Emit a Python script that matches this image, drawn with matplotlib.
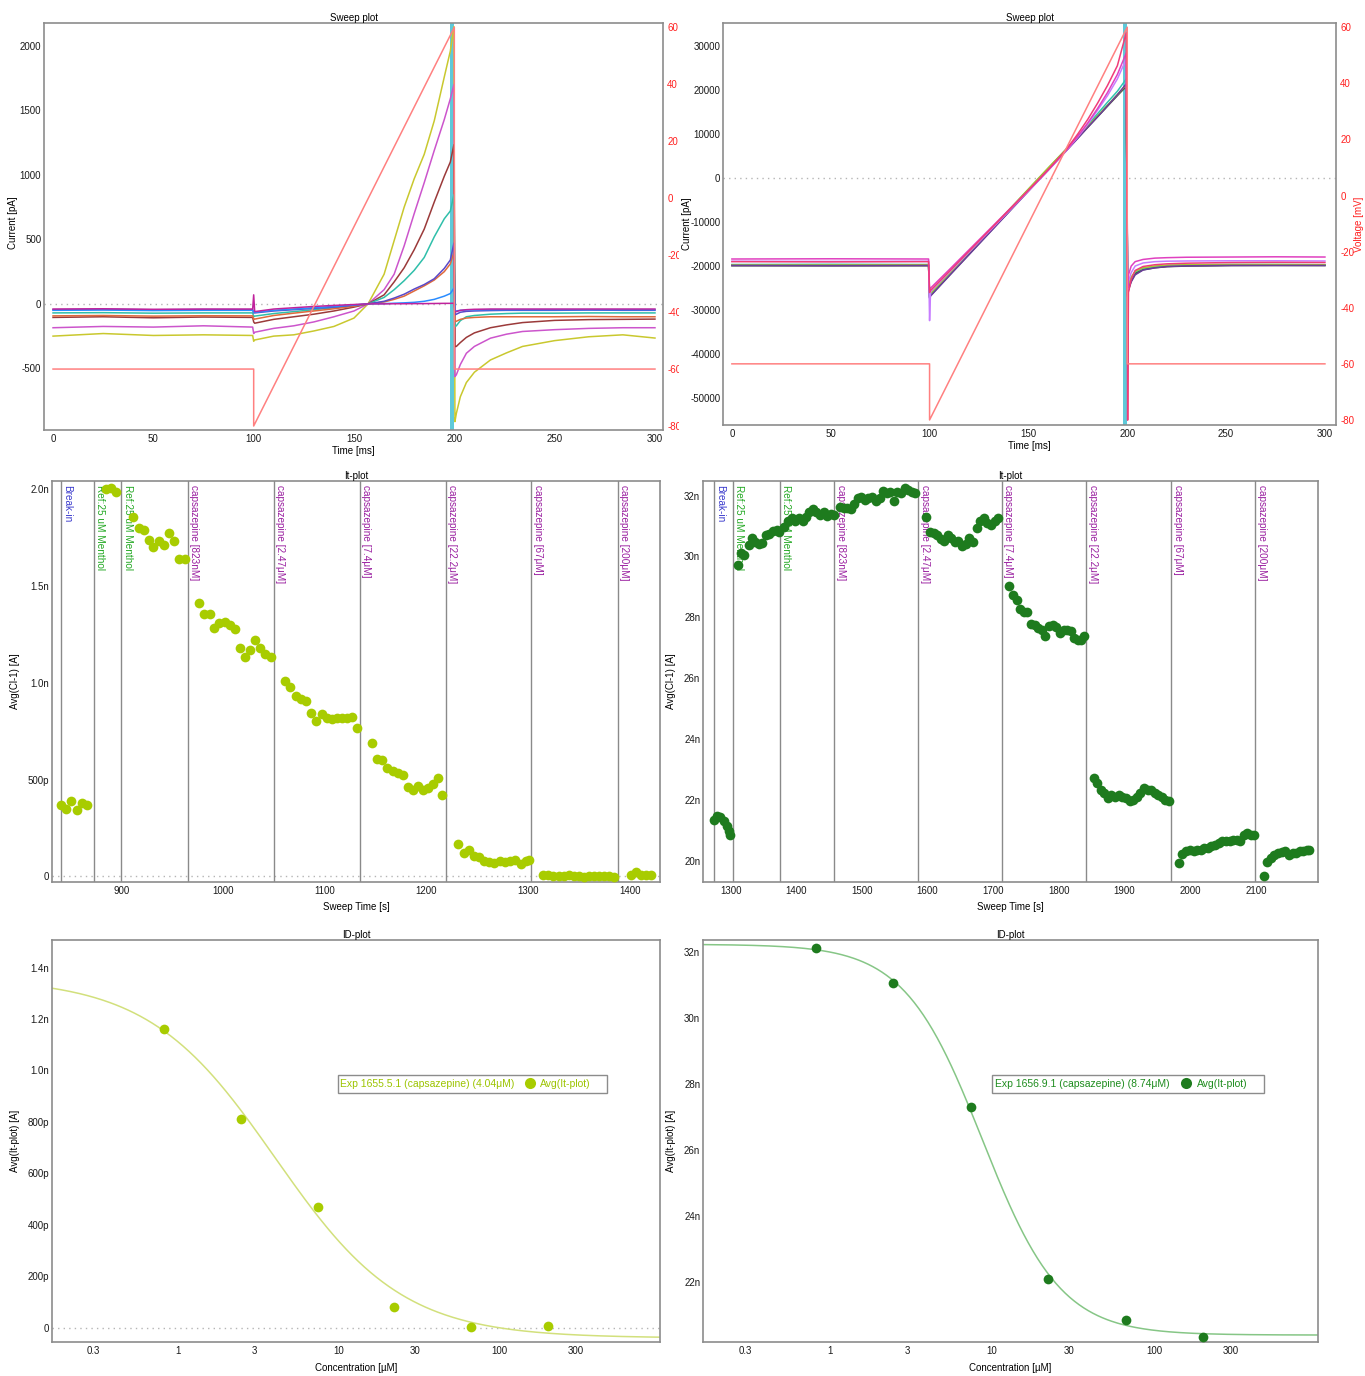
import numpy as np
import matplotlib.pyplot as plt
from matplotlib.ticker import FuncFormatter, NullLocator
from matplotlib.patches import Rectangle
from matplotlib.transforms import offset_copy

plt.rcParams['font.family'] = ['Liberation Sans', 'DejaVu Sans']
plt.rcParams['font.size'] = 7
plt.rcParams['axes.unicode_minus'] = False

# ---------------- sweep plot, experiment 1 (pA) ----------------
t_ms = [0, 25, 50, 75, 99.5, 100, 100.5, 110, 120, 130, 140, 150, 157, 165, 170, 175, 180, 185, 190,
        195, 198, 199.8, 200.3, 201, 203, 206, 210, 218, 226, 234, 250, 267, 284, 300]
sweeps_1 = {
    '#c9c82e': [-250, -230, -245, -240, -245, -290, -280, -250, -240, -210, -175, -110, 0, 230, 490, 750, 970, 1160,
                1420, 1760, 1960, 2150, -913, -850, -720, -610, -530, -435, -380, -330, -285, -255, -240, -265],
    '#cc55cc': [-185, -175, -180, -170, -180, -230, -220, -190, -170, -140, -100, -55, 0, 110, 230, 450, 700, 940,
                1190, 1430, 1590, 1700, -564, -550, -470, -383, -330, -266, -235, -214, -200, -190, -185, -185],
    '#9b3a3a': [-105, -100, -108, -102, -105, -140, -150, -120, -100, -80, -55, -25, 0, 70, 170, 280, 420, 580,
                790, 990, 1100, 1234, -331, -330, -300, -260, -225, -185, -163, -145, -128, -122, -120, -118],
    '#2fbfaa': [-70, -68, -72, -70, -70, -100, -95, -75, -60, -45, -30, -15, 0, 50, 110, 180, 260, 360,
                520, 660, 720, 846, -176, -170, -130, -100, -90, -80, -75, -72, -72, -70, -70, -70],
    '#e06a3c': [-93, -90, -95, -92, -93, -120, -118, -90, -72, -55, -38, -18, 0, 15, 35, 60, 100, 140,
                185, 250, 310, 400, -137, -135, -120, -110, -105, -100, -100, -100, -100, -98, -100, -100],
    '#5a48c8': [-45, -42, -46, -44, -45, -70, -70, -55, -45, -35, -25, -10, 0, 20, 45, 75, 115, 150,
                195, 275, 340, 471, -85, -80, -65, -58, -55, -52, -50, -50, -50, -48, -50, -50],
    '#2a8cff': [-50, -48, -52, -50, -50, -65, -65, -50, -40, -30, -20, -8, 0, 2, 5, 8, 12, 20,
                35, 60, 80, 122, -55, -55, -50, -48, -46, -45, -45, -45, -45, -45, -45, -45],
    '#c0229c': [-40, -38, -42, -40, -40, 70, -60, -40, -30, -20, -12, -5, 0, 0, 1, 1, 2, 2,
                3, 4, 4, 5, -62, -60, -50, -45, -42, -40, -40, -40, -40, -40, -40, -40],
}

# ---------------- sweep plot, experiment 2 (pA) ----------------
t_ms_2 = [0, 50, 99.5, 100, 100.5, 110, 120, 130, 140, 150, 160, 169, 175, 180, 185, 190, 195, 199.5,
          200.2, 200.6, 202, 204, 208, 214, 220, 230, 253, 275, 300]
sweeps_2 = {
    '#2f7d32': [-19800, -19850, -19800, -27000, -26500, -21950, -17150, -12350, -7550, -2750, 2050, 6370, 9250,
                11650, 14050, 16450, 18850, 21000, -26500, -25000, -23200, -21600, -20700, -20250, -20050,
                -19900, -19800, -19780, -19800],
    '#4d4d4d': [-19950, -19950, -19950, -27200, -26700, -22100, -17300, -12500, -7700, -2900, 1900, 6200, 9100,
                11500, 13900, 16300, 18700, 20800, -26800, -25300, -23400, -21800, -20850, -20400, -20150,
                -20000, -19900, -19880, -19900],
    '#30c4b0': [-19650, -19600, -19650, -26800, -26300, -21800, -17000, -12200, -7400, -2600, 2200, 6500, 9500,
                12000, 14600, 17200, 19700, 22500, -26000, -24600, -22800, -21300, -20500, -20100, -19900,
                -19750, -19650, -19650, -19700],
    '#a8c830': [-19750, -19750, -19700, -26600, -26200, -21700, -16900, -12100, -7300, -2500, 2300, 6500, 9300,
                11700, 14100, 16500, 18900, 21200, -25500, -24000, -22500, -21200, -20400, -20000, -19800,
                -19700, -19650, -19650, -19700],
    '#6a3d9a': [-19850, -19900, -19850, -27300, -26800, -22200, -17400, -12600, -7800, -3000, 1800, 6100, 9000,
                11500, 13900, 16400, 18900, 21400, -27000, -25500, -23600, -22000, -20900, -20400, -20100,
                -19950, -19850, -19850, -19850],
    '#c77dff': [-18900, -18950, -18900, -32400, -25800, -21400, -16800, -12200, -7600, -3000, 1700, 6100, 9300,
                12200, 15400, 18700, 22500, 27000, -26000, -23500, -21500, -20000, -19300, -19000, -18900,
                -18850, -18800, -18800, -18850],
    '#e040c0': [-18400, -18350, -18400, -25500, -25000, -20800, -16300, -11800, -7300, -2800, 1800, 6200, 9500,
                12500, 15800, 19400, 23500, 28400, -25000, -22000, -20000, -19000, -18500, -18200, -18100,
                -18000, -17950, -17900, -17950],
    '#f03c78': [-19000, -19050, -19000, -26000, -25500, -21200, -16600, -12000, -7400, -2800, 1900, 6400, 10000,
                13300, 17000, 21000, 25500, 33000, -55000, -26000, -23000, -21000, -20100, -19700, -19500,
                -19350, -19200, -19150, -19200],
}

# voltage protocol (mV)
v_t = [0, 100, 100, 200, 200, 300]
v_mv = [-60, -60, -80, 60, -60, -60]

# ---------------- It-plot, experiment 1 (nA) ----------------
it1_t = [841, 846, 851, 856, 861, 866,
         885, 890, 895,
         911.5, 917, 922, 927, 931.5, 937, 942, 947, 952, 956.6, 962.5,
         976.6, 981.7, 986.8, 991.5, 996.6, 1001.7, 1006.8, 1011.5, 1016.6, 1021.7, 1026.8, 1031.5, 1036.6,
         1041.7, 1046.8,
         1061.3, 1066.4, 1071.5, 1076.6, 1081.7, 1086.8, 1091.9, 1097, 1102, 1107, 1112, 1117.4, 1122, 1127,
         1131.5,
         1146.4, 1151.5, 1156.6, 1161.7, 1166.8, 1171.9, 1177, 1182, 1187, 1192, 1197, 1202, 1207, 1211.5,
         1215.7,
         1231.5, 1236.6, 1241.7, 1246.8, 1252, 1257, 1262, 1267, 1272, 1277, 1282, 1287, 1292.8, 1298, 1301,
         1315, 1320, 1325, 1330, 1335, 1340, 1345, 1350, 1355, 1360, 1365, 1370, 1375, 1380, 1385,
         1401, 1406, 1411, 1416, 1421]
it1_i = [0.37, 0.35, 0.39, 0.345, 0.38, 0.37,
         2.00, 2.005, 1.985,
         1.857, 1.80, 1.79, 1.737, 1.70, 1.73, 1.71, 1.775, 1.73, 1.64, 1.64,
         1.41, 1.355, 1.355, 1.28, 1.307, 1.312, 1.30, 1.278, 1.178, 1.13, 1.17, 1.218, 1.178, 1.147, 1.135,
         1.01, 0.98, 0.929, 0.917, 0.906, 0.843, 0.803, 0.837, 0.817, 0.813, 0.817, 0.82, 0.82, 0.825, 0.765,
         0.688, 0.607, 0.602, 0.559, 0.542, 0.533, 0.525, 0.459, 0.447, 0.464, 0.447, 0.456, 0.476, 0.507,
         0.418,
         0.167, 0.12, 0.138, 0.103, 0.098, 0.081, 0.074, 0.069, 0.077, 0.074, 0.077, 0.086, 0.064, 0.077, 0.086,
         0.008, 0.005, 0.004, 0.002, 0.003, 0.006, 0.002, 0.0, -0.002, 0.0, 0.001, 0.003, 0.0, 0.002, -0.002,
         0.005, 0.022, 0.009, 0.009, 0.009]
events1 = [840.4, 873, 900, 965.5, 1049.8, 1134.5, 1219.1, 1303.4, 1388.1]

# ---------------- It-plot, experiment 2 (nA) ----------------
it2_t = [1274, 1279.5, 1284, 1290, 1294, 1297, 1299,
         1311.6, 1315.8, 1321, 1327.4, 1333, 1337.7, 1343, 1348.6, 1353.4, 1359, 1364, 1370, 1374,
         1382, 1387.7, 1393, 1398.6, 1404, 1409.6, 1414.4, 1420, 1425, 1430.8, 1436, 1441.8, 1447, 1452.7,
         1456.8,
         1466, 1472, 1477.4, 1483, 1488, 1494, 1499, 1505, 1510, 1516, 1521, 1527, 1532, 1537.7, 1543, 1548.6,
         1554, 1559.6, 1565, 1570.5, 1576, 1581.5,
         1598, 1603.4, 1609, 1614, 1620, 1625, 1631, 1636, 1641.8, 1647, 1652.7, 1658, 1663.7, 1669, 1674.7,
         1680, 1685.6, 1691, 1696.6, 1702, 1707.5,
         1724.6, 1730, 1735.6, 1741, 1746.6, 1752, 1757.5, 1763, 1768.5, 1774, 1779.5, 1785, 1790.4, 1796,
         1801.4, 1807, 1812.3, 1818, 1823, 1828.8, 1834, 1838,
         1852.7, 1858, 1863.7, 1869, 1874.7, 1880, 1885.6, 1891, 1896.6, 1902, 1907.5, 1913, 1918.5, 1924,
         1929.5, 1935, 1940.4, 1946, 1951.4, 1957, 1962, 1968,
         1983, 1988, 1994, 1999, 2005, 2010, 2016, 2021, 2027, 2032, 2038, 2043, 2049, 2054, 2060, 2065, 2071,
         2076, 2082, 2087, 2093, 2097,
         2112, 2117, 2123, 2128, 2134, 2139, 2144.5, 2150, 2156, 2161, 2166.4, 2172, 2177, 2181.5]
it2_i = [21.35, 21.46, 21.42, 21.3, 21.13, 20.97, 20.86,
         29.72, 30.1, 30.05, 30.38, 30.62, 30.49, 30.4, 30.43, 30.7, 30.73, 30.84, 30.87, 30.82,
         30.98, 31.17, 31.28, 31.15, 31.26, 31.15, 31.31, 31.47, 31.56, 31.47, 31.37, 31.47, 31.34, 31.39,
         31.37,
         31.64, 31.6, 31.58, 31.55, 31.72, 31.91, 31.97, 31.86, 31.91, 31.97, 31.82, 31.93, 32.15, 32.08, 32.11,
         31.82, 32.13, 32.08, 32.24, 32.19, 32.11, 32.08,
         31.31, 30.82, 30.76, 30.69, 30.58, 30.51, 30.71, 30.6, 30.49, 30.51, 30.33, 30.4, 30.62, 30.49, 30.93,
         31.17, 31.26, 31.09, 31.04, 31.17, 31.26,
         29.04, 28.72, 28.57, 28.28, 28.17, 28.19, 27.77, 27.75, 27.64, 27.59, 27.4, 27.7, 27.75, 27.67, 27.48,
         27.59, 27.59, 27.56, 27.31, 27.26, 27.26, 27.37,
         22.72, 22.55, 22.33, 22.22, 22.06, 22.17, 22.11, 22.17, 22.08, 22.06, 21.97, 22.0, 22.11, 22.22, 22.39,
         22.33, 22.33, 22.22, 22.17, 22.08, 22.0, 21.97,
         19.93, 20.22, 20.31, 20.36, 20.31, 20.36, 20.36, 20.42, 20.42, 20.47, 20.53, 20.58, 20.64, 20.66, 20.66,
         20.69, 20.69, 20.64, 20.86, 20.91, 20.83, 20.86,
         19.49, 19.96, 20.09, 20.2, 20.25, 20.27, 20.31, 20.18, 20.25, 20.25, 20.31, 20.33, 20.36, 20.36]
events2 = [1274, 1303.4, 1375, 1457.5, 1585.6, 1713, 1841.8, 1971, 2099]

event_labels = ['Break-in', 'Ref:25 uM Menthol', 'Ref:25 uM Menthol', 'capsazepine [823nM]',
                'capsazepine [2.47μM]', 'capsazepine [7.4μM]', 'capsazepine [22.2μM]',
                'capsazepine [67μM]', 'capsazepine [200μM]']
event_colors = ['#3a3acc', '#22a822', '#22a822'] + ['#9a1fa0'] * 6

# ---------------- ID-plot (concentration in uM, current in nA) ----------------
conc = [0.823, 2.47, 7.4, 22.2, 67, 200]
id1_i = [1.161, 0.810, 0.4675, 0.0805, 0.0026, 0.0065]
id2_i = [32.12, 31.04, 27.28, 22.09, 20.85, 20.33]
fit1 = dict(top=1.36, bottom=-0.04, ic50=4.04, hill=1.1)
fit2 = dict(top=32.22, bottom=20.38, ic50=8.74, hill=1.8)

W, H = 1365, 1376
fig = plt.figure(figsize=(W / 100, H / 100), dpi=100)


def box(l, t, r, b):
    return [l / W, 1 - b / H, (r - l) / W, (b - t) / H]


def style(ax):
    for s in ax.spines.values():
        s.set_color('#8c8c8c')
        s.set_linewidth(1.2)
    ax.tick_params(length=0, labelsize=7, colors='#1a1a1a')
    ax.tick_params(axis='y', pad=2)
    ax.tick_params(axis='x', pad=3)


def zero_line(ax):
    ax.axhline(0, color='#b5b5b5', lw=1, ls=(0, (1, 3)), zorder=0)


def sweep_panel(rect, t, sweeps, xlim, ylim, vlim, yticks, band, vlabel):
    ax = fig.add_axes(rect)
    style(ax)
    zero_line(ax)
    ax.axvspan(band[0], band[1], color='#5fc9d9', lw=0, zorder=1)
    for c, vals in sweeps.items():
        ax.plot(t, vals, color=c, lw=1.1, zorder=2)
    ax.set_xlim(*xlim)
    ax.set_ylim(*ylim)
    ax.set_xticks([0, 50, 100, 150, 200, 250, 300])
    ax.set_yticks(yticks)
    ax.set_title('Sweep plot', fontsize=7, pad=1.5)
    ax.set_xlabel('Time [ms]', fontsize=7)
    ax.set_ylabel('Current [pA]', fontsize=7)
    ax.xaxis.set_label_coords(0.5, -0.04)
    ax2 = ax.twinx()
    ax2.plot(v_t, v_mv, color='#ff8080', lw=1.1)
    ax2.set_ylim(*vlim)
    ax2.set_yticks([-80, -60, -40, -20, 0, 20, 40, 60])
    for s in ax2.spines.values():
        s.set_visible(False)
    ax2.tick_params(length=0, labelsize=7, colors='#ff2020', pad=3)
    if vlabel:
        ax2.set_ylabel('Voltage [mV]', color='#ff2020', fontsize=7)
        ax2.yaxis.set_label_coords(1.029, 0.5)
    return ax


ax = sweep_panel(box(44, 23, 663, 430), t_ms, sweeps_1, (-4.5, 304), (-978, 2178), (-81.4, 61.5),
                 [-500, 0, 500, 1000, 1500, 2000], (197.6, 199.6), False)
ax.yaxis.set_label_coords(-0.042, 0.51)

ax = sweep_panel(box(723, 23, 1336, 425), t_ms_2, sweeps_2, (-4.5, 305.6), (-56100, 35200), (-81.8, 61.5),
                 [-50000, -40000, -30000, -20000, -10000, 0, 10000, 20000, 30000], (197.7, 199.9), True)
ax.yaxis.set_label_coords(-0.050, 0.5)

# cut off the right tick labels of the first sweep plot where the second one begins
fig.add_artist(Rectangle((679 / W, 1 - 440 / H), 2 / W, 425 / H, transform=fig.transFigure,
                         facecolor='white', edgecolor='none', zorder=10))


def fmt_small(v, pos):
    if abs(v) < 1e-9:
        return '0'
    if v < 1:
        return f'{v * 1000:.0f}p'
    return f'{v:.1f}n'


def fmt_big(v, pos):
    return f'{v:.0f}n'


def it_panel(rect, t, i, color, events, xlim, ylim, xticks, yticks, fmt, ylabel_x):
    ax = fig.add_axes(rect)
    style(ax)
    zero_line(ax)
    for ev in events:
        ax.axvline(ev, color='#8a8a8a', lw=1, zorder=1)
    trans = offset_copy(ax.get_xaxis_transform(), fig=fig, x=1.5, y=-4, units='dots')
    for ev, lab, c in zip(events, event_labels, event_colors):
        ax.text(ev, 1, lab, rotation=270, ha='left', va='top', color=c, fontsize=7.2,
                transform=trans, zorder=2)
    ax.plot(t, i, 'o', color=color, ms=7, mec='none', zorder=3)
    ax.set_xlim(*xlim)
    ax.set_ylim(*ylim)
    ax.set_xticks(xticks)
    ax.set_yticks(yticks)
    ax.yaxis.set_major_formatter(FuncFormatter(fmt))
    ax.set_title('It-plot', fontsize=7, pad=1.5)
    ax.set_xlabel('Sweep Time [s]', fontsize=7)
    ax.set_ylabel('Avg(Cl-1) [A]', fontsize=7)
    ax.xaxis.set_label_coords(0.5, -0.05)
    ax.yaxis.set_label_coords(ylabel_x, 0.5)
    return ax


it_panel(box(52, 481, 660, 882), it1_t, it1_i, '#a8cc00', events1, (831.9, 1429.8), (-0.029, 2.041),
         [900, 1000, 1100, 1200, 1300, 1400], [0, 0.5, 1.0, 1.5, 2.0], fmt_small, -0.053)
it_panel(box(703, 481, 1318, 882), it2_t, it2_i, '#1e7b1e', events2, (1258, 2194.5), (19.3, 32.48),
         [1300, 1400, 1500, 1600, 1700, 1800, 1900, 2000, 2100], [20, 22, 24, 26, 28, 30, 32], fmt_big, -0.044)


def id_panel(rect, i, fit, dot_color, line_color, text_color, exp_name, xlim, ylim, yticks, fmt, ylabel_x):
    ax = fig.add_axes(rect)
    style(ax)
    zero_line(ax)
    x = np.logspace(np.log10(xlim[0]), np.log10(xlim[1]), 400)
    y = fit['bottom'] + (fit['top'] - fit['bottom']) / (1 + (x / fit['ic50']) ** fit['hill'])
    ax.plot(x, y, color=line_color, lw=1.1, zorder=2)
    ax.plot(conc, i, 'o', color=dot_color, ms=7, mec='none', zorder=3)
    ax.set_xscale('log')
    ax.set_xlim(*xlim)
    ax.set_ylim(*ylim)
    ax.set_xticks([0.3, 1, 3, 10, 30, 100, 300])
    ax.set_xticklabels(['0.3', '1', '3', '10', '30', '100', '300'])
    ax.xaxis.set_minor_locator(NullLocator())
    ax.set_yticks(yticks)
    ax.yaxis.set_major_formatter(FuncFormatter(fmt))
    ax.set_title('ID-plot', fontsize=7, pad=1.5)
    ax.set_xlabel('Concentration [µM]', fontsize=7)
    ax.set_ylabel('Avg(It-plot) [A]', fontsize=7)
    ax.xaxis.set_label_coords(0.5, -0.052)
    ax.yaxis.set_label_coords(ylabel_x, 0.5)

    # legend box: fit name on the left, marker + series name on the right
    x0, x1, y0, y1 = 0.470, 0.913, 0.6194, 0.6642
    ym = (y0 + y1) / 2
    ax.add_patch(Rectangle((x0, y0), x1 - x0, y1 - y0, transform=ax.transAxes, facecolor='white',
                           edgecolor='#8c8c8c', lw=1.0, zorder=5))
    ax.text(x0 + 0.004, ym, f'{exp_name} (capsazepine) ({fit["ic50"]:.2f}μM)', transform=ax.transAxes,
            ha='left', va='center', fontsize=7.5, color=text_color, zorder=6)
    ax.plot([0.7855], [ym + 0.002], 'o', ms=8, color=dot_color, mec='none', transform=ax.transAxes,
            clip_on=False, zorder=6)
    ax.text(0.803, ym, 'Avg(It-plot)', transform=ax.transAxes, ha='left', va='center', fontsize=7.5,
            color=text_color, zorder=6)
    return ax


id_panel(box(52, 940, 660, 1342), id1_i, fit1, '#a8cc00', '#d2e07c', '#9cc400', 'Exp 1655.5.1',
         (0.165, 1000), (-0.0555, 1.507), [0, 0.2, 0.4, 0.6, 0.8, 1.0, 1.2, 1.4], fmt_small, -0.053)
id_panel(box(703, 940, 1318, 1342), id2_i, fit2, '#1e7b1e', '#86c686', '#1e8c1e', 'Exp 1656.9.1',
         (0.165, 1030), (20.17, 32.35), [22, 24, 26, 28, 30, 32], fmt_big, -0.044)

fig.savefig('out.png', dpi=100, facecolor='white')
